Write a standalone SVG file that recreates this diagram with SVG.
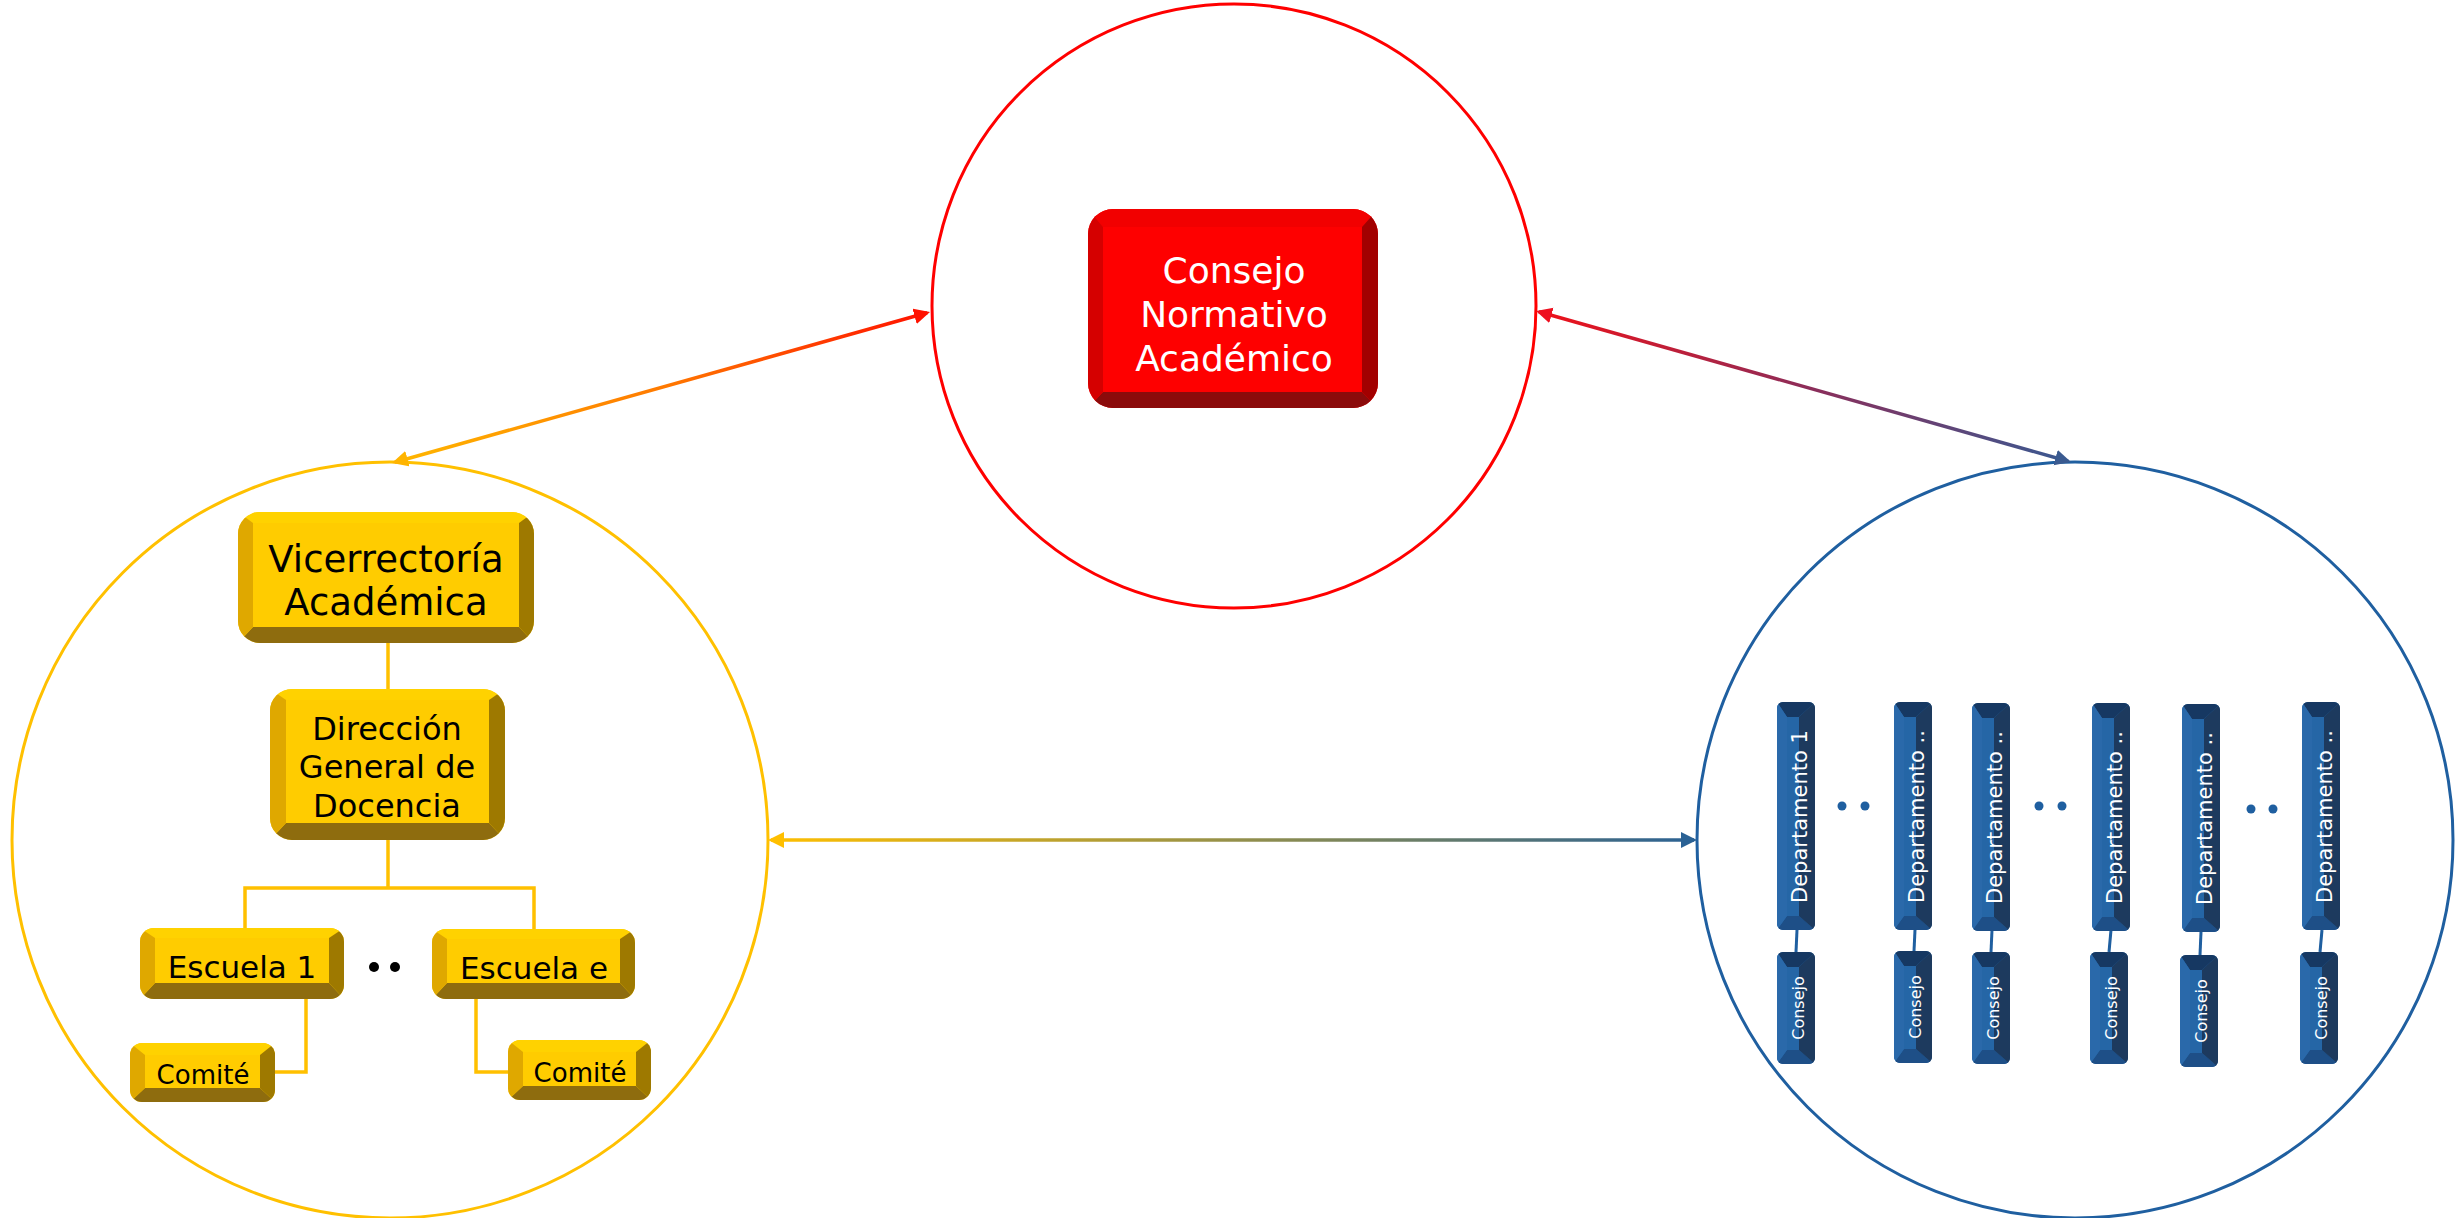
<svg xmlns="http://www.w3.org/2000/svg" xmlns:xlink="http://www.w3.org/1999/xlink" width="2458" height="1218" viewBox="0 0 2458 1218">
<style>
.t{font-family:"DejaVu Sans","Verdana","Liberation Sans",sans-serif;text-anchor:middle}
.tw{fill:#ffffff}
.tb{fill:#000000}
.yl{stroke:#FFC000;stroke-width:3.5;fill:none}
.bl{stroke:#1F5FA0;stroke-width:3;fill:none}
.rf{fill:#FE0000}.rt{fill:#F20000}.rl{fill:#D50000}.rr{fill:#A20000}.rb{fill:#8B0B0B}
.yf{fill:#FFCC00}.yt{fill:#FFD200}.ylf{fill:#DFA800}.yr{fill:#9E7900}.yb{fill:#8E6C0E}
.bf{fill:#2566A6}.bt{fill:#163862}.blf{fill:#2A69AA}.br{fill:#1D3A5E}.bb{fill:#1E4F87}
</style>
<defs>
<linearGradient id="gA" gradientUnits="userSpaceOnUse" x1="392" y1="463" x2="930" y2="312">
<stop offset="0" stop-color="#FFB800"/><stop offset="0.5" stop-color="#FF7A00"/><stop offset="1" stop-color="#FF1000"/>
</linearGradient>
<linearGradient id="gB" gradientUnits="userSpaceOnUse" x1="1536" y1="311" x2="2071" y2="462">
<stop offset="0" stop-color="#F01018"/><stop offset="0.5" stop-color="#8E2C58"/><stop offset="1" stop-color="#385A92"/>
</linearGradient>
<linearGradient id="gC" gradientUnits="userSpaceOnUse" x1="768" y1="840" x2="1697" y2="840">
<stop offset="0" stop-color="#FFBF00"/><stop offset="1" stop-color="#2A6194"/>
</linearGradient>
<marker id="mAs" markerUnits="userSpaceOnUse" markerWidth="18" markerHeight="18" refX="13" refY="8" orient="auto-start-reverse"><path d="M0,0 L16,8 L0,16 z" fill="#FFB400"/></marker>
<marker id="mAe" markerUnits="userSpaceOnUse" markerWidth="18" markerHeight="18" refX="13" refY="8" orient="auto"><path d="M0,0 L16,8 L0,16 z" fill="#FF1200"/></marker>
<marker id="mBs" markerUnits="userSpaceOnUse" markerWidth="18" markerHeight="18" refX="13" refY="8" orient="auto-start-reverse"><path d="M0,0 L16,8 L0,16 z" fill="#EE1020"/></marker>
<marker id="mBe" markerUnits="userSpaceOnUse" markerWidth="18" markerHeight="18" refX="13" refY="8" orient="auto"><path d="M0,0 L16,8 L0,16 z" fill="#3A5A90"/></marker>
<marker id="mCs" markerUnits="userSpaceOnUse" markerWidth="18" markerHeight="18" refX="13" refY="8" orient="auto-start-reverse"><path d="M0,0 L16,8 L0,16 z" fill="#FFBF00"/></marker>
<marker id="mCe" markerUnits="userSpaceOnUse" markerWidth="18" markerHeight="18" refX="13" refY="8" orient="auto"><path d="M0,0 L16,8 L0,16 z" fill="#2A6194"/></marker>
<clipPath id="cRed"><rect x="1088" y="209" width="290" height="199" rx="25"/></clipPath>
<clipPath id="cVic"><rect x="238" y="512" width="296" height="131" rx="22"/></clipPath>
<clipPath id="cDir"><rect x="270" y="689" width="235" height="151" rx="22"/></clipPath>
<clipPath id="cE1"><rect x="140" y="928" width="204" height="71" rx="14"/></clipPath>
<clipPath id="cEe"><rect x="432" y="929" width="203" height="70" rx="14"/></clipPath>
<clipPath id="cC1"><rect x="130" y="1043" width="145" height="59" rx="12"/></clipPath>
<clipPath id="cCe"><rect x="508" y="1040" width="143" height="60" rx="12"/></clipPath>
<clipPath id="cDept"><rect x="0" y="0" width="38" height="228" rx="6"/></clipPath>
<clipPath id="cCons"><rect x="0" y="0" width="38" height="112" rx="6"/></clipPath>
<g id="deptShape" clip-path="url(#cDept)">
<rect x="0" y="0" width="38" height="228" class="bf"/>
<polygon points="0,0 38,0 22,15 10,15" class="bt"/>
<polygon points="0,228 38,228 22,214 10,214" class="bb"/>
<polygon points="0,0 10,15 10,214 0,228" class="blf"/>
<polygon points="38,0 22,15 22,214 38,228" class="br"/>
</g>
<g id="consShape" clip-path="url(#cCons)">
<rect x="0" y="0" width="38" height="112" class="bf"/>
<polygon points="0,0 38,0 22,15 10,15" class="bt"/>
<polygon points="0,112 38,112 22,98 10,98" class="bb"/>
<polygon points="0,0 10,15 10,98 0,112" class="blf"/>
<polygon points="38,0 22,15 22,98 38,112" class="br"/>
</g>
</defs>
<rect x="0" y="0" width="2458" height="1218" fill="#ffffff"/>

<g id="circles">
<circle id="circle-consejo" cx="1234" cy="306" r="302" fill="none" stroke="#FF0000" stroke-width="3"/>
<circle id="circle-academica" cx="390" cy="840" r="378" fill="none" stroke="#FFC000" stroke-width="3"/>
<circle id="circle-departamentos" cx="2075" cy="840" r="378" fill="none" stroke="#1F5FA0" stroke-width="3"/>
</g>

<g id="connectors">
<line x1="394.9" y1="462.2" x2="927.1" y2="312.8" stroke="url(#gA)" stroke-width="3.5" marker-start="url(#mAs)" marker-end="url(#mAe)"/>
<line x1="1538.9" y1="311.8" x2="2068.1" y2="461.2" stroke="url(#gB)" stroke-width="3.5" marker-start="url(#mBs)" marker-end="url(#mBe)"/>
<line x1="771" y1="840" x2="1694" y2="840" stroke="url(#gC)" stroke-width="3.5" marker-start="url(#mCs)" marker-end="url(#mCe)"/>
<polyline class="yl" points="388,643 388,689"/>
<polyline class="yl" points="388,840 388,888"/>
<polyline class="yl" points="245,928 245,888 534,888 534,929"/>
<polyline class="yl" points="306,999 306,1072 275,1072"/>
<polyline class="yl" points="476,999 476,1072 508,1072"/>
<line class="bl" x1="1797" y1="930" x2="1796" y2="952"/>
<line class="bl" x1="1915" y1="930" x2="1914" y2="951"/>
<line class="bl" x1="1992" y1="930" x2="1991" y2="952"/>
<line class="bl" x1="2111" y1="930" x2="2109" y2="952"/>
<line class="bl" x1="2201" y1="932" x2="2200" y2="955"/>
<line class="bl" x1="2322" y1="930" x2="2320" y2="952"/>
</g>

<g id="node-consejo-normativo">
<g clip-path="url(#cRed)">
<rect x="1088" y="209" width="290" height="199" class="rf"/>
<polygon points="1088,209 1378,209 1362,227 1103,227" class="rt"/>
<polygon points="1088,408 1378,408 1362,392 1103,392" class="rb"/>
<polygon points="1088,209 1103,227 1103,392 1088,408" class="rl"/>
<polygon points="1378,209 1362,227 1362,392 1378,408" class="rr"/>
</g>
<text class="t tw" font-size="36"><tspan x="1234" y="283">Consejo</tspan><tspan x="1234" y="327">Normativo</tspan><tspan x="1234" y="371">Académico</tspan></text>
</g>

<g id="node-vicerrectoria">
<g clip-path="url(#cVic)">
<rect x="238" y="512" width="296" height="131" class="yf"/>
<polygon points="238,512 534,512 519,523 253,523" class="yt"/>
<polygon points="238,643 534,643 519,627 253,627" class="yb"/>
<polygon points="238,512 253,523 253,627 238,643" class="ylf"/>
<polygon points="534,512 519,523 519,627 534,643" class="yr"/>
</g>
<text class="t tb" font-size="37"><tspan x="386" y="572">Vicerrectoría</tspan><tspan x="386" y="615">Académica</tspan></text>
</g>

<g id="node-direccion">
<g clip-path="url(#cDir)">
<rect x="270" y="689" width="235" height="151" class="yf"/>
<polygon points="270,689 505,689 489,700 286,700" class="yt"/>
<polygon points="270,840 505,840 489,823 286,823" class="yb"/>
<polygon points="270,689 286,700 286,823 270,840" class="ylf"/>
<polygon points="505,689 489,700 489,823 505,840" class="yr"/>
</g>
<text class="t tb" font-size="32"><tspan x="387" y="740">Dirección</tspan><tspan x="387" y="778">General de</tspan><tspan x="387" y="817">Docencia</tspan></text>
</g>

<g id="node-escuela-1">
<g clip-path="url(#cE1)">
<rect x="140" y="928" width="204" height="71" class="yf"/>
<polygon points="140,928 344,928 329,938 155,938" class="yt"/>
<polygon points="140,999 344,999 329,983 155,983" class="yb"/>
<polygon points="140,928 155,938 155,983 140,999" class="ylf"/>
<polygon points="344,928 329,938 329,983 344,999" class="yr"/>
</g>
<text class="t tb" font-size="31" x="242" y="978">Escuela 1</text>
</g>

<g id="node-escuela-e">
<g clip-path="url(#cEe)">
<rect x="432" y="929" width="203" height="70" class="yf"/>
<polygon points="432,929 635,929 620,939 447,939" class="yt"/>
<polygon points="432,999 635,999 620,983 447,983" class="yb"/>
<polygon points="432,929 447,939 447,983 432,999" class="ylf"/>
<polygon points="635,929 620,939 620,983 635,999" class="yr"/>
</g>
<text class="t tb" font-size="31" x="534" y="979">Escuela e</text>
</g>

<g id="dots-escuelas">
<circle cx="374" cy="967" r="5" fill="#000"/>
<circle cx="395" cy="967" r="5" fill="#000"/>
</g>

<g id="node-comite-1">
<g clip-path="url(#cC1)">
<rect x="130" y="1043" width="145" height="59" class="yf"/>
<polygon points="130,1043 275,1043 260,1055 145,1055" class="yt"/>
<polygon points="130,1102 275,1102 260,1088 145,1088" class="yb"/>
<polygon points="130,1043 145,1055 145,1088 130,1102" class="ylf"/>
<polygon points="275,1043 260,1055 260,1088 275,1102" class="yr"/>
</g>
<text class="t tb" font-size="26" x="203" y="1084">Comité</text>
</g>

<g id="node-comite-e">
<g clip-path="url(#cCe)">
<rect x="508" y="1040" width="143" height="60" class="yf"/>
<polygon points="508,1040 651,1040 636,1052 523,1052" class="yt"/>
<polygon points="508,1100 651,1100 636,1086 523,1086" class="yb"/>
<polygon points="508,1040 523,1052 523,1086 508,1100" class="ylf"/>
<polygon points="651,1040 636,1052 636,1086 651,1100" class="yr"/>
</g>
<text class="t tb" font-size="26" x="580" y="1082">Comité</text>
</g>

<g id="node-departamento-1">
<use xlink:href="#deptShape" href="#deptShape" transform="translate(1777,702)"/>
<text class="tw" style="font-family:'DejaVu Sans',Verdana,sans-serif" font-size="21" transform="translate(1807,903) rotate(-90)">Departamento 1</text>
</g>
<g id="node-departamento-2">
<use xlink:href="#deptShape" href="#deptShape" transform="translate(1894,702)"/>
<text class="tw" style="font-family:'DejaVu Sans',Verdana,sans-serif" font-size="21" transform="translate(1924,903) rotate(-90)">Departamento ..</text>
</g>
<g id="node-departamento-3">
<use xlink:href="#deptShape" href="#deptShape" transform="translate(1972,703)"/>
<text class="tw" style="font-family:'DejaVu Sans',Verdana,sans-serif" font-size="21" transform="translate(2002,904) rotate(-90)">Departamento ..</text>
</g>
<g id="node-departamento-4">
<use xlink:href="#deptShape" href="#deptShape" transform="translate(2092,703)"/>
<text class="tw" style="font-family:'DejaVu Sans',Verdana,sans-serif" font-size="21" transform="translate(2122,904) rotate(-90)">Departamento ..</text>
</g>
<g id="node-departamento-5">
<use xlink:href="#deptShape" href="#deptShape" transform="translate(2182,704)"/>
<text class="tw" style="font-family:'DejaVu Sans',Verdana,sans-serif" font-size="21" transform="translate(2212,905) rotate(-90)">Departamento ..</text>
</g>
<g id="node-departamento-6">
<use xlink:href="#deptShape" href="#deptShape" transform="translate(2302,702)"/>
<text class="tw" style="font-family:'DejaVu Sans',Verdana,sans-serif" font-size="21" transform="translate(2332,903) rotate(-90)">Departamento ..</text>
</g>

<g id="node-consejo-1">
<use xlink:href="#consShape" href="#consShape" transform="translate(1777,952)"/>
<text class="t tw" font-size="16" transform="translate(1804,1008) rotate(-90)">Consejo</text>
</g>
<g id="node-consejo-2">
<use xlink:href="#consShape" href="#consShape" transform="translate(1894,951)"/>
<text class="t tw" font-size="16" transform="translate(1921,1007) rotate(-90)">Consejo</text>
</g>
<g id="node-consejo-3">
<use xlink:href="#consShape" href="#consShape" transform="translate(1972,952)"/>
<text class="t tw" font-size="16" transform="translate(1999,1008) rotate(-90)">Consejo</text>
</g>
<g id="node-consejo-4">
<use xlink:href="#consShape" href="#consShape" transform="translate(2090,952)"/>
<text class="t tw" font-size="16" transform="translate(2117,1008) rotate(-90)">Consejo</text>
</g>
<g id="node-consejo-5">
<use xlink:href="#consShape" href="#consShape" transform="translate(2180,955)"/>
<text class="t tw" font-size="16" transform="translate(2207,1011) rotate(-90)">Consejo</text>
</g>
<g id="node-consejo-6">
<use xlink:href="#consShape" href="#consShape" transform="translate(2300,952)"/>
<text class="t tw" font-size="16" transform="translate(2327,1008) rotate(-90)">Consejo</text>
</g>

<g id="dots-departamentos" fill="#1F5FA0">
<circle cx="1842" cy="806" r="4.5"/><circle cx="1865" cy="806" r="4.5"/>
<circle cx="2039" cy="806" r="4.5"/><circle cx="2062" cy="806" r="4.5"/>
<circle cx="2251" cy="809" r="4.5"/><circle cx="2273" cy="809" r="4.5"/>
</g>
</svg>
